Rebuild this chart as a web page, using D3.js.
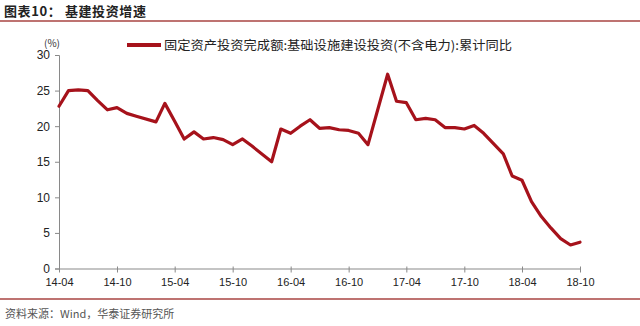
<!DOCTYPE html>
<html><head><meta charset="utf-8">
<script src="https://cdn.jsdelivr.net/npm/d3@7"></script>
<style>
html,body{margin:0;padding:0;background:#fff;}
svg{display:block;}
</style></head>
<body>
<svg id="c" width="640" height="326"></svg>
<script>
const months = ["2014-04","2014-05","2014-06","2014-07","2014-08","2014-09","2014-10","2014-11","2014-12",
"2015-02","2015-03","2015-04","2015-05","2015-06","2015-07","2015-08","2015-09","2015-10","2015-11","2015-12",
"2016-02","2016-03","2016-04","2016-05","2016-06","2016-07","2016-08","2016-09","2016-10","2016-11","2016-12",
"2017-02","2017-03","2017-04","2017-05","2017-06","2017-07","2017-08","2017-09","2017-10","2017-11","2017-12",
"2018-02","2018-03","2018-04","2018-05","2018-06","2018-07","2018-08","2018-09","2018-10"];
const values = [22.8,25.0,25.1,25.0,23.6,22.3,22.6,21.8,21.4,
20.6,23.2,20.7,18.2,19.2,18.2,18.4,18.1,17.4,18.2,17.2,
15.0,19.6,19.0,20.0,20.9,19.7,19.8,19.5,19.4,19.0,17.4,
27.3,23.5,23.3,20.9,21.1,20.9,19.8,19.8,19.6,20.1,19.0,
16.1,13.0,12.4,9.4,7.3,5.7,4.2,3.3,3.7];
const xTickLabels = ["14-04","14-10","15-04","15-10","16-04","16-10","17-04","17-10","18-04","18-10"];
const yTicks = [0,5,10,15,20,25,30];
const seriesName = "固定资产投资完成额:基础设施建设投资(不含电力):累计同比";
const title = "图表10：  基建投资增速";
const source = "资料来源：Wind，华泰证券研究所";

const parse = d3.timeParse("%Y-%m");
const data = months.map((m,i)=>({d:parse(m), v:values[i]}));
const tickDates = xTickLabels.map(s=>parse("20"+s));

const svg = d3.select("#c");
const red = "#a6121b";
const ruleColor = "#a94442";
const axisColor = "#898989";
const font = "'Liberation Sans', Arial, sans-serif";
const cjk = "'Noto Sans CJK SC', sans-serif";

const x = d3.scaleTime().domain([tickDates[0], tickDates[tickDates.length-1]]).range([59, 580]);
const y = d3.scaleLinear().domain([0,30]).range([268.5, 55]);

// title
svg.append("text").attr("x",4).attr("y",16).attr("font-family",cjk).attr("font-weight","bold")
  .attr("font-size",13).attr("letter-spacing",0.6).attr("fill","#222").text(title);
svg.append("line").attr("x1",0).attr("x2",640).attr("y1",21).attr("y2",21)
  .attr("stroke",ruleColor).attr("stroke-width",1.6);

// y axis
const ya = svg.append("g").attr("transform","translate(59,0)")
  .call(d3.axisLeft(y).tickValues(yTicks).tickSize(4).tickPadding(5).tickFormat(d3.format("d")));
ya.select(".domain").attr("stroke",axisColor);
ya.selectAll(".tick line").attr("stroke",axisColor);
ya.selectAll("text").attr("font-family",font).attr("font-size",12).attr("fill","#222");

// x axis
const xa = svg.append("g").attr("transform","translate(0,268.5)")
  .call(d3.axisBottom(x).tickValues(tickDates).tickSize(4).tickSizeOuter(0).tickPadding(6)
    .tickFormat(d3.timeFormat("%y-%m")));
xa.select(".domain").attr("stroke",axisColor);
xa.selectAll(".tick line").attr("stroke",axisColor).attr("y1",-2);
xa.selectAll("text").attr("font-family",font).attr("font-size",11).attr("fill","#222");

svg.append("text").attr("x",52).attr("y",47).attr("text-anchor","middle")
  .attr("font-family",cjk).attr("font-size",10).attr("fill","#333").text("(%)");

// line
svg.append("path").datum(data)
  .attr("fill","none").attr("stroke",red).attr("stroke-width",3.2)
  .attr("stroke-linejoin","round").attr("stroke-linecap","round")
  .attr("d", d3.line().x(d=>x(d.d)).y(d=>y(d.v)));

// legend
svg.append("line").attr("x1",127).attr("x2",161).attr("y1",45).attr("y2",45)
  .attr("stroke",red).attr("stroke-width",4);
svg.append("text").attr("x",164).attr("y",49.5).attr("font-family",cjk).attr("font-size",12.5)
  .attr("fill","#222").attr("textLength",348).attr("lengthAdjust","spacingAndGlyphs").text(seriesName);

// bottom rule & source
svg.append("line").attr("x1",0).attr("x2",640).attr("y1",299).attr("y2",299)
  .attr("stroke",ruleColor).attr("stroke-width",1.6);
svg.append("text").attr("x",5).attr("y",318).attr("font-family",cjk).attr("font-size",11)
  .attr("fill","#555").text(source);
</script>
</body></html>
